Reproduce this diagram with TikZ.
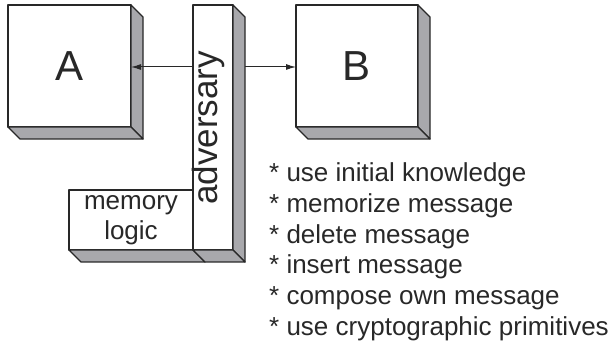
\documentclass[tikz,border=0pt]{standalone}
\usepackage{fontspec}
\setmainfont{Liberation Sans}
\usetikzlibrary{calc,arrows.meta}
\definecolor{linec}{RGB}{40,40,40}
\definecolor{sidegray}{RGB}{168,168,172}
\tikzset{
  frontbox/.style={draw=linec, fill=white, line width=1.3pt, inner sep=0pt, outer sep=0pt, line join=round},
  sideface/.style={draw=linec, fill=sidegray, line width=1.3pt, line join=round},
  conn/.style={draw=linec, line width=1pt, -{Latex[length=10pt,width=6pt]}},
  listitem/.style={anchor=base west, inner sep=0pt, font=\fontsize{26}{30}\selectfont, text=linec},
}
\newcommand{\boxsides}[1]{%
  \path[sideface] (#1.north east) -- ++(12,12) -- ($(#1.south east)+(12,12)$) -- (#1.south east) -- cycle;
  \path[sideface] (#1.south west) -- ++(12,12) -- ($(#1.south east)+(12,12)$) -- (#1.south east) -- cycle;
}
\begin{document}
\begin{tikzpicture}[x=1pt,y=-1pt]
\useasboundingbox (0,0) rectangle (610,347);
% memory logic box (bottom face only)
\node[frontbox, minimum width=124pt, minimum height=60pt] (mem) at (131,220) {};
\path[sideface] (mem.south west) -- ++(12,12) -- ($(mem.south east)+(12,12)$) -- (mem.south east) -- cycle;
\node[font=\fontsize{26}{30}\selectfont, align=center, text=linec] (memtext) at (mem.center) {memory\\logic};
% adversary
\node[frontbox, minimum width=40pt, minimum height=245pt] (adv) at (213,127.5) {};
\boxsides{adv}
\node[rotate=90, font=\fontsize{35}{40}\selectfont, text=linec, inner sep=0pt] (advtext) at (208,128) {adversary};
% A
\node[frontbox, minimum width=123pt, minimum height=122pt, font=\fontsize{42}{48}\selectfont, text=linec] (A) at (69.5,66) {A};
\boxsides{A}
% B
\node[frontbox, minimum width=122pt, minimum height=122pt, font=\fontsize{42}{48}\selectfont, text=linec] (B) at (357,66) {B};
\boxsides{B}
% connectors
\coordinate (advR) at ($(adv.east)+(12,0)$);
\draw[conn] (adv.west |- 0,67) -- (A.east |- 0,67);
\draw[conn] (advR |- 0,67) -- (B.west |- 0,67);
% list
\node[listitem] (l1) at (269,182) {* use initial knowledge};
\node[listitem] (l2) at (269,212.6) {* memorize message};
\node[listitem] (l3) at (269,243.2) {* delete message};
\node[listitem] (l4) at (269,273.8) {* insert message};
\node[listitem] (l5) at (269,304.4) {* compose own message};
\node[listitem] (l6) at (269,335) {* use cryptographic primitives};
\end{tikzpicture}
\end{document}
